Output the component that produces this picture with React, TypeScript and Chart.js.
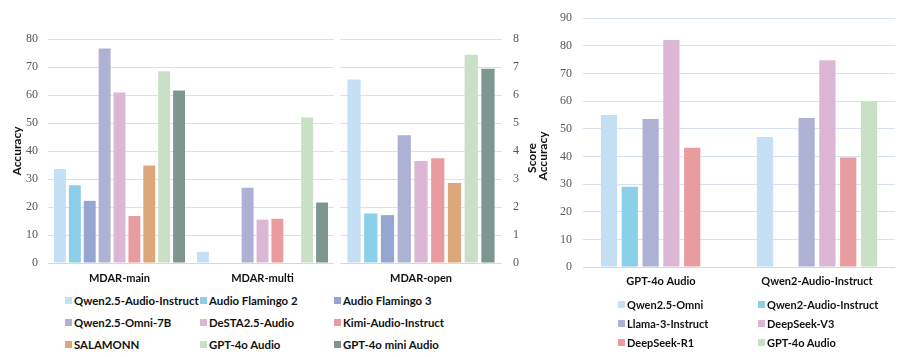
import React, { useEffect, useRef } from "react";
import { Chart, registerables } from "chart.js";

Chart.register(...registerables);

// ---------------- data ----------------
const leftCategories = ["MDAR-main", "MDAR-multi"];
const openCategories = ["MDAR-open"];
const leftModels = [
  "Qwen2.5-Audio-Instruct",
  "Audio Flamingo 2",
  "Audio Flamingo 3",
  "Qwen2.5-Omni-7B",
  "DeSTA2.5-Audio",
  "Kimi-Audio-Instruct",
  "SALAMONN",
  "GPT-4o Audio",
  "GPT-4o mini Audio",
];
const leftColors = [
  "#c5dff4",
  "#8ccfe8",
  "#94a6d1",
  "#adb1d3",
  "#dbb7d5",
  "#e89c9f",
  "#dca77b",
  "#c9dfc6",
  "#7d9690",
];
const mainAccuracy = [33.6, 27.8, 22.2, 76.6, 60.9, 16.8, 34.8, 68.5, 61.6];
const multiAccuracy = [4.0, null, null, 26.9, 15.5, 15.8, null, 52.0, 21.6];
const openScore = [6.55, 1.77, 1.71, 4.56, 3.64, 3.74, 2.86, 7.44, 6.94];

const judgeCategories = ["GPT-4o Audio", "Qwen2-Audio-Instruct"];
const judgeModels = [
  "Qwen2.5-Omni",
  "Qwen2-Audio-Instruct",
  "Llama-3-Instruct",
  "DeepSeek-V3",
  "DeepSeek-R1",
  "GPT-4o Audio",
];
const judgeColors = ["#c5dff4", "#8ccfe8", "#adb1d3", "#dbb7d5", "#e89c9f", "#c9dfc6"];
const judgeOnGpt4o = [55.0, 29.0, 53.5, 82.1, 43.1, null];
const judgeOnQwen2 = [47.0, null, 53.9, 74.8, 39.6, 59.9];

const accuracyRange = { min: 0, max: 80, step: 10 };
const scoreRange = { min: 0, max: 8, step: 1 };
const judgeRange = { min: 0, max: 90, step: 10 };

// ---------------- styles ----------------
const SANS = "Lato, 'Open Sans', sans-serif";
const SERIF = "'Liberation Serif', serif";
const GRID = "#d8e1f1";
const ZERO = "#d9d9d9";

function sideTitle(text: string, x: number, y: number) {
  return {
    id: "sideTitle",
    afterDraw(chart: any) {
      const ctx = chart.ctx;
      ctx.save();
      ctx.translate(x, y);
      ctx.rotate(-Math.PI / 2);
      ctx.font = `bold 12px ${SANS}`;
      ctx.fillStyle = "#111";
      ctx.textAlign = "center";
      ctx.textBaseline = "middle";
      ctx.fillText(text, 0, 0);
      ctx.restore();
    },
  };
}

function yScale(range: any, position: string, width: number, pad: number) {
  return {
    position,
    min: range.min,
    max: range.max,
    border: { display: false },
    grid: {
      drawTicks: false,
      color: (c: any) => (c.tick && c.tick.value === 0 ? ZERO : GRID),
      lineWidth: 1,
    },
    ticks: {
      stepSize: range.step,
      padding: pad,
      color: "#595959",
      font: { family: SERIF, size: 12, weight: "normal" },
    },
    afterFit: (s: any) => {
      s.width = width;
    },
  };
}

function xScale(height: number, pad: number) {
  return {
    border: { display: false },
    grid: { display: false, drawTicks: false },
    ticks: {
      padding: pad,
      color: "#111",
      font: { family: SANS, size: 11, weight: "bold" },
    },
    afterFit: (s: any) => {
      s.height = height;
    },
  };
}

function ChartBox(props: { left: number; top: number; width: number; height: number; make: () => any }) {
  const ref = useRef<HTMLCanvasElement | null>(null);
  useEffect(() => {
    if (!ref.current) return;
    const chart = new Chart(ref.current, props.make());
    return () => chart.destroy();
  }, []);
  return (
    <canvas
      ref={ref}
      width={props.width}
      height={props.height}
      style={{
        position: "absolute",
        left: props.left,
        top: props.top,
        width: props.width,
        height: props.height,
      }}
    />
  );
}

const baseOptions = {
  responsive: false,
  maintainAspectRatio: false,
  animation: false,
  plugins: { legend: { display: false }, tooltip: { enabled: false } },
};

function makeLeft() {
  return {
    type: "bar",
    data: {
      labels: leftCategories,
      datasets: leftModels.map((m, i) => ({
        label: m,
        data: [mainAccuracy[i], multiAccuracy[i]],
        backgroundColor: leftColors[i],
        barPercentage: 0.8,
        categoryPercentage: 0.937,
      })),
    },
    options: {
      ...baseOptions,
      layout: { padding: { top: 39, left: 0, right: 2, bottom: 0 } },
      scales: {
        x: xScale(27, 9),
        y: yScale(accuracyRange, "left", 48, 10),
      },
    },
    plugins: [sideTitle("Accuracy", 17, 151)],
  };
}

function makeOpen() {
  return {
    type: "bar",
    data: {
      labels: openCategories,
      datasets: leftModels.map((m, i) => ({
        label: m,
        data: [openScore[i]],
        backgroundColor: leftColors[i],
        barPercentage: 0.79,
        categoryPercentage: 0.93,
      })),
    },
    options: {
      ...baseOptions,
      layout: { padding: { top: 39, left: 4, right: 0, bottom: 0 } },
      scales: {
        x: xScale(27, 9),
        y: yScale(scoreRange, "right", 44, 11),
      },
    },
    plugins: [sideTitle("Score", 196, 158)],
  };
}

function makeJudge() {
  return {
    type: "bar",
    data: {
      labels: judgeCategories,
      datasets: judgeModels.map((m, i) => ({
        label: m,
        data: [judgeOnGpt4o[i], judgeOnQwen2[i]],
        backgroundColor: judgeColors[i],
        barPercentage: 0.78,
        categoryPercentage: 0.8,
      })),
    },
    options: {
      ...baseOptions,
      layout: { padding: { top: 17, left: 0, right: 19, bottom: 0 } },
      scales: {
        x: xScale(23, 8),
        y: yScale(judgeRange, "left", 47, 11),
      },
    },
    plugins: [sideTitle("Accuracy", 7, 156)],
  };
}

function Legend(props: { items: string[]; colors: string[]; cols: number[]; rows: number[]; size: number }) {
  const nCols = props.cols.length;
  return (
    <>
      {props.items.map((t, i) => {
        const x = props.cols[i % nCols];
        const y = props.rows[Math.floor(i / nCols)];
        return (
          <div
            key={t + i}
            style={{
              position: "absolute",
              left: x,
              top: y - 8,
              height: 16,
              display: "flex",
              alignItems: "center",
              whiteSpace: "nowrap",
              font: `bold ${props.size}px ${SANS}`,
              color: "#111",
            }}
          >
            <span
              style={{
                display: "inline-block",
                width: 7,
                height: 7,
                background: props.colors[i],
                marginRight: 2,
              }}
            />
            {t}
          </div>
        );
      })}
    </>
  );
}

export default function App() {
  return (
    <div
      style={{
        position: "absolute",
        left: 0,
        top: 0,
        width: 914,
        height: 357,
        background: "#ffffff",
        overflow: "hidden",
      }}
    >
      <ChartBox left={0} top={0} width={336} height={290} make={makeLeft} />
      <ChartBox left={336} top={0} width={210} height={290} make={makeOpen} />
      <ChartBox left={536} top={0} width={378} height={290} make={makeJudge} />
      <Legend items={leftModels} colors={leftColors} cols={[65, 200, 334]} rows={[300, 322, 344]} size={11.4} />
      <Legend items={judgeModels} colors={judgeColors} cols={[618, 758]} rows={[304, 323, 342]} size={11} />
    </div>
  );
}
